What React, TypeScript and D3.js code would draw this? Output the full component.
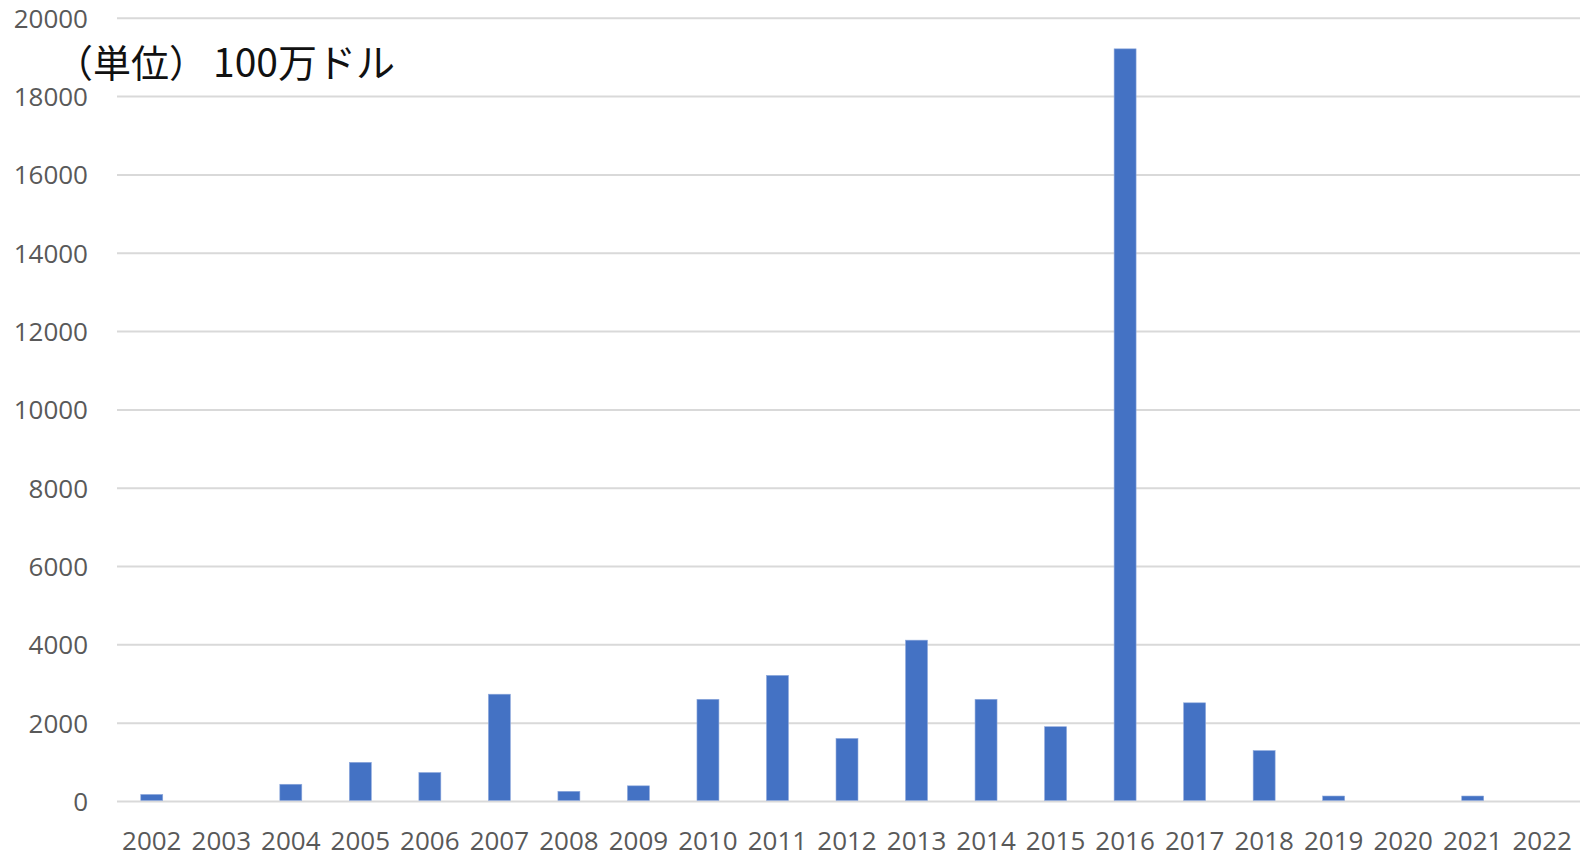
import React from "react";
import * as d3 from "d3";

// Annual amounts (unit: million USD)
const years = [
  "2002", "2003", "2004", "2005", "2006", "2007", "2008", "2009", "2010", "2011", "2012",
  "2013", "2014", "2015", "2016", "2017", "2018", "2019", "2020", "2021", "2022",
];
const amounts = [
  180, 0, 440, 1000, 740, 2740, 260, 400, 2610, 3220, 1610,
  4120, 2610, 1910, 19220, 2520, 1300, 140, 0, 140, 0,
];
const yTicks = [0, 2000, 4000, 6000, 8000, 10000, 12000, 14000, 16000, 18000, 20000];
const unitPrefix = "（単位）";
const unitText = "100万ドル";

const W = 1580;
const H = 855;
const plot = { left: 117, right: 1577, top: 18.3, bottom: 801.5 };

export default function App() {
  const x = d3
    .scaleBand<string>()
    .domain(years)
    .range([plot.left, plot.right])
    .paddingInner(0.684)
    .paddingOuter(0.342);
  const y = d3.scaleLinear().domain([0, 20000]).range([plot.bottom, plot.top]);

  const tickFont = "'Open Sans', 'Noto Sans', sans-serif";

  return (
    <svg
      width={W}
      height={H}
      style={{ position: "absolute", left: 0, top: 0, background: "#fff" }}
    >
      {yTicks.map((t) => (
        <g key={t}>
          <line
            x1={plot.left}
            x2={W}
            y1={y(t)}
            y2={y(t)}
            stroke="#d9d9d9"
            strokeWidth={2}
          />
          <text
            x={88}
            y={y(t)}
            dy="0.36em"
            textAnchor="end"
            fontFamily={tickFont}
            fontSize={26}
            fill="#595959"
          >
            {t}
          </text>
        </g>
      ))}
      {years.map((yr, i) =>
        amounts[i] > 0 ? (
          <rect
            key={yr}
            x={x(yr)}
            y={y(amounts[i])}
            width={x.bandwidth()}
            height={y(0) - y(amounts[i]) - 1}
            fill="#4472c4"
            stroke="#8fa9dc"
            strokeWidth={0.6}
          />
        ) : null
      )}
      {years.map((yr) => (
        <text
          key={yr}
          x={(x(yr) as number) + x.bandwidth() / 2}
          y={850}
          textAnchor="middle"
          fontFamily={tickFont}
          fontSize={26}
          fill="#595959"
        >
          {yr}
        </text>
      ))}
      <text
        x={55}
        y={76.5}
        fontFamily="'Noto Sans CJK JP', sans-serif"
        fontSize={38}
        fill="#111"
      >
        <tspan>{unitPrefix}</tspan>
        <tspan dx={6} fontSize={39}>
          {unitText}
        </tspan>
      </text>
    </svg>
  );
}
